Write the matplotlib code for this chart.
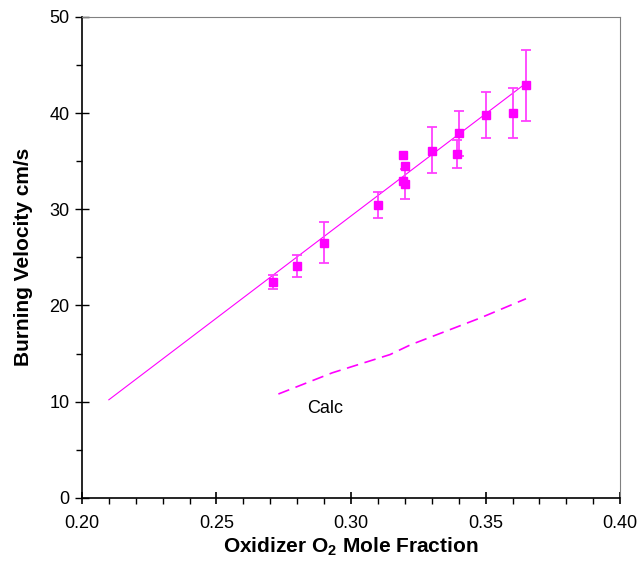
import matplotlib
matplotlib.use("Agg")
import matplotlib.pyplot as plt
import numpy as np
from matplotlib.ticker import MultipleLocator

plt.rcParams['font.family'] = ['Liberation Sans', 'DejaVu Sans']
plt.rcParams['mathtext.fontset'] = 'custom'
plt.rcParams['mathtext.rm'] = 'Liberation Sans'
plt.rcParams['mathtext.bf'] = 'Liberation Sans:bold'

# mesures
o2_frac = [0.271, 0.280, 0.290, 0.310, 0.3194, 0.3201, 0.3194, 0.3201, 0.330, 0.340, 0.3395, 0.350, 0.360, 0.365]
vitesse = [22.4, 24.1, 26.5, 30.4, 35.6, 34.5, 32.9, 32.6, 36.1, 37.9, 35.7, 39.8, 40.0, 42.9]
err_bas = [21.7, 23.0, 24.4, 29.1, None, None, None, 31.1, 33.8, 35.5, 34.3, 37.4, 37.4, 39.2]
err_haut = [23.2, 25.2, 28.7, 31.8, None, None, None, 34.2, 38.5, 40.2, 37.2, 42.2, 42.6, 46.5]

# droite de regression
fit_x = [0.21, 0.365]
fit_y = [10.2, 43.1]

# calcul
calc_x = [0.273, 0.293, 0.3145, 0.322, 0.348, 0.365]
calc_y = [10.8, 13.0, 14.9, 15.9, 18.7, 20.7]

mag = '#ff00ff'

fig = plt.figure(figsize=(6.4, 5.79), dpi=100)
ax = fig.add_axes([0.128, 0.140, 0.841, 0.831])

ax.plot(fit_x, fit_y, color=mag, lw=0.8)
ax.plot(calc_x, calc_y, color=mag, lw=1.2, dashes=(7, 4))

idx = [i for i in range(len(o2_frac)) if err_bas[i] is not None]
ex = np.array([o2_frac[i] for i in idx])
ey = np.array([vitesse[i] for i in idx])
lo = ey - np.array([err_bas[i] for i in idx])
hi = np.array([err_haut[i] for i in idx]) - ey
ax.errorbar(ex, ey, yerr=[lo, hi], fmt='none', ecolor='#ff40ff', elinewidth=1.3,
            capsize=3.5, capthick=1.3)
ax.plot(o2_frac, vitesse, 's', color=mag, ms=6, mec=mag)

ax.text(0.2903, 9.3, "Calc", fontsize=13, ha='center', va='center')

ax.set_xlim(0.20, 0.40)
ax.set_ylim(0, 50)
ax.xaxis.set_major_locator(MultipleLocator(0.05))
ax.xaxis.set_minor_locator(MultipleLocator(0.01))
ax.yaxis.set_major_locator(MultipleLocator(10))
ax.yaxis.set_minor_locator(MultipleLocator(5))
ax.xaxis.set_major_formatter(matplotlib.ticker.FormatStrFormatter('%.2f'))

ax.tick_params(axis='x', which='major', direction='inout', length=8, width=1.2, labelsize=13, pad=8)
ax.tick_params(axis='x', which='minor', direction='out', length=4, width=1)
ax.tick_params(axis='y', which='major', direction='inout', length=10, width=1, labelsize=13, pad=4)
ax.tick_params(axis='y', which='minor', direction='out', length=4, width=1)

for s in ['left', 'bottom']:
    ax.spines[s].set_color('black')
    ax.spines[s].set_linewidth(1.2)
for s in ['top', 'right']:
    ax.spines[s].set_color('#808080')
    ax.spines[s].set_linewidth(0.8)

ax.set_xlabel("Oxidizer O$_\\mathbf{2}$ Mole Fraction", fontsize=15, fontweight='bold', labelpad=3)
ax.set_ylabel("Burning Velocity cm/s", fontsize=15, fontweight='bold', labelpad=12)

fig.savefig("out.png", dpi=100)
